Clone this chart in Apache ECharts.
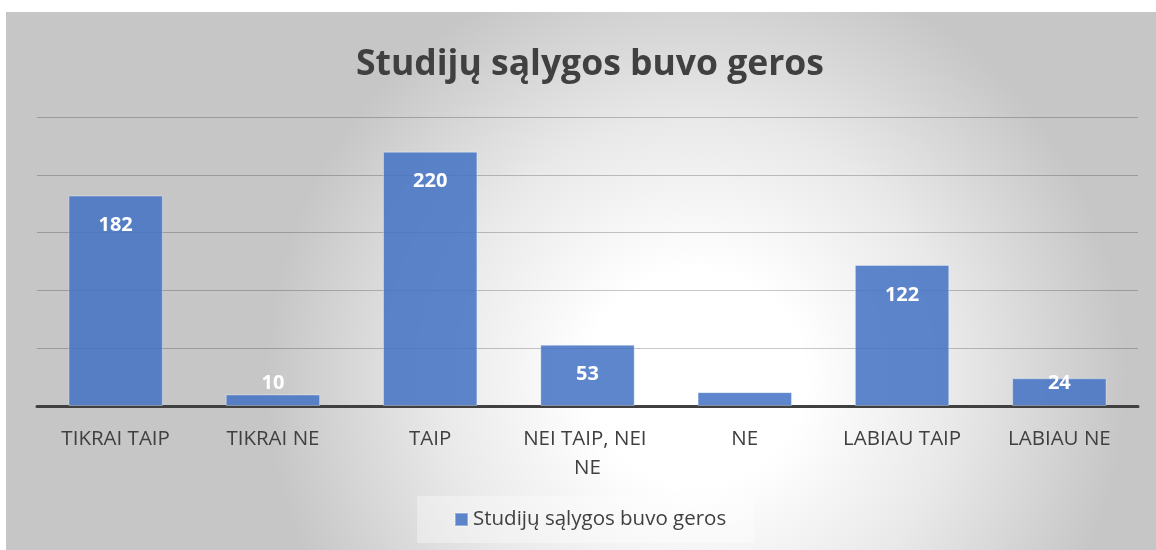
<!DOCTYPE html>
<html>
<head>
<meta charset="utf-8">
<script src="https://cdn.jsdelivr.net/npm/echarts@6/dist/echarts.min.js"></script>
<style>
html,body{margin:0;padding:0;background:#ffffff;}
#chart{position:absolute;left:6px;top:12px;width:1150px;height:538px;}
</style>
</head>
<body>
<div id="chart"></div>
<script>
const categories = ['TIKRAI TAIP', 'TIKRAI NE', 'TAIP', 'NEI TAIP, NEI NE', 'NE', 'LABIAU TAIP', 'LABIAU NE'];
const values = [182, 10, 220, 53, 12, 122, 24];
const seriesName = 'Studijų sąlygos buvo geros';
const titleText = 'Studijų sąlygos buvo geros';

const chart = echarts.init(document.getElementById('chart'), null, {renderer: 'canvas'});
const FONT = '"Open Sans", "DejaVu Sans", sans-serif';

const data = values.map(v => ({
  value: v,
  label: v < 30 ? {position: 'insideBottom', distance: 13} : {position: 'insideTop', distance: 20}
}));

chart.setOption({
  animation: false,
  backgroundColor: {
    type: 'radial', x: 0.6, y: 0.68, r: 0.8,
    colorStops: [
      {offset: 0, color: '#ffffff'},
      {offset: 0.25, color: '#ffffff'},
      {offset: 0.6, color: '#e9e9e9'},
      {offset: 1, color: '#c6c6c6'}
    ]
  },
  title: {
    text: titleText,
    left: 345,
    top: 30,
    textStyle: {fontFamily: FONT, fontSize: 35.5, fontWeight: 'bold', color: '#404040'}
  },
  legend: {
    bottom: 7,
    left: 411,
    itemWidth: 13,
    itemHeight: 13,
    itemGap: 5,
    icon: 'rect',
    padding: [13, 28, 13, 37],
    backgroundColor: 'rgba(255,255,255,0.35)',
    textStyle: {fontFamily: FONT, fontSize: 20.5, color: '#404040'}
  },
  grid: {left: 31, right: 18, top: 105, bottom: 144},
  xAxis: {
    type: 'category',
    data: categories,
    axisLine: {lineStyle: {color: '#404040', width: 3}},
    axisTick: {show: false},
    axisLabel: {
      interval: 0,
      margin: 19,
      fontFamily: FONT,
      fontSize: 20.5,
      color: '#404040',
      width: 150,
      overflow: 'break',
      lineHeight: 29
    }
  },
  yAxis: {
    type: 'value',
    min: 0,
    max: 250,
    interval: 50,
    axisLabel: {show: false},
    axisLine: {show: false},
    axisTick: {show: false},
    splitLine: {lineStyle: {color: 'rgba(0,0,0,0.22)', width: 1.2}}
  },
  series: [{
    name: seriesName,
    type: 'bar',
    data: data,
    barCategoryGap: '40%',
    itemStyle: {color: 'rgba(68,114,196,0.86)', borderColor: 'rgba(255,255,255,0.35)', borderWidth: 1},
    label: {
      show: true,
      color: '#ffffff',
      fontFamily: FONT,
      fontSize: 20,
      fontWeight: 'bold'
    }
  }]
});
</script>
</body>
</html>
